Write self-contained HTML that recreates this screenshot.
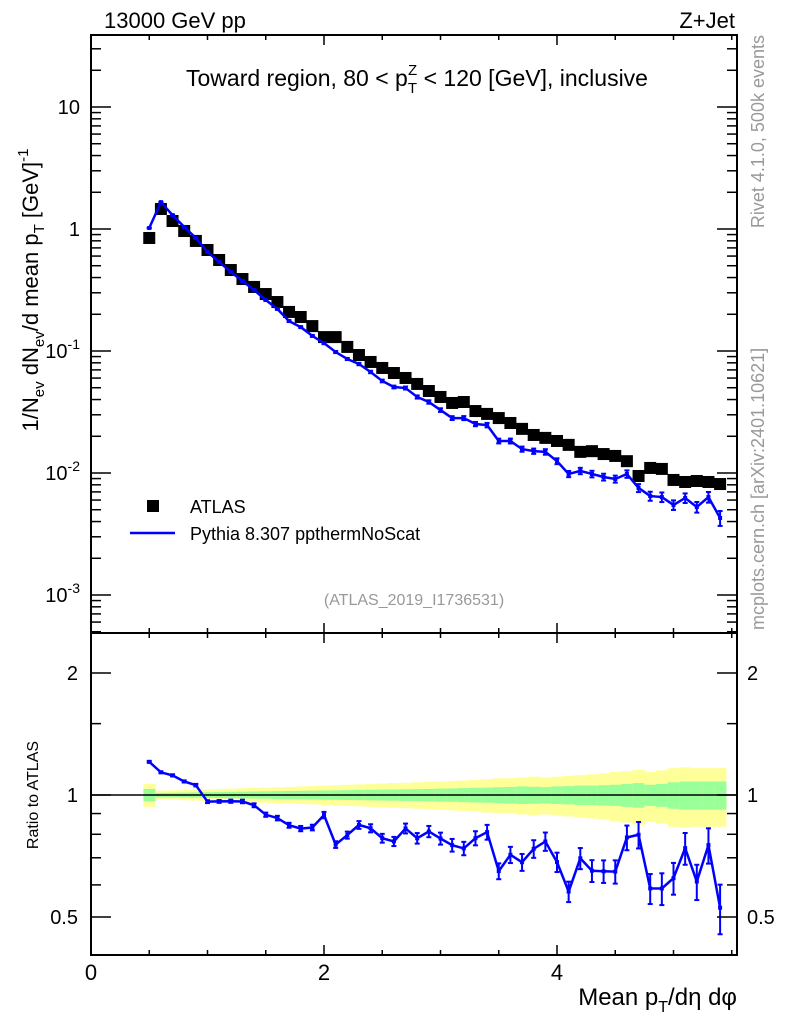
<!DOCTYPE html>
<html><head><meta charset="utf-8"><style>
body{margin:0;background:#fff;}
svg{display:block;font-family:"Liberation Sans",sans-serif;}
</style></head><body>
<svg id="c" width="786" height="1024" viewBox="0 0 786 1024">
<rect x="0" y="0" width="786" height="1024" fill="#fff"/>
<g id="bands"></g><g id="marks"></g><g id="axes"></g>
<text x="104" y="28" font-size="22">13000 GeV pp</text>
<text x="735" y="28" font-size="22" text-anchor="end">Z+Jet</text>
<text x="417" y="86" font-size="23" text-anchor="middle">Toward region, 80 &lt; p<tspan font-size="15" dy="7">T</tspan><tspan font-size="15" dx="-9" dy="-18">Z</tspan><tspan dy="11"> &lt; 120 [GeV], inclusive</tspan></text>
<text transform="translate(38,290) rotate(-90)" font-size="22" text-anchor="middle">1/N<tspan font-size="15" dy="6">ev</tspan><tspan dy="-6"> dN</tspan><tspan font-size="15" dy="6">ev</tspan><tspan dy="-6">/d mean p</tspan><tspan font-size="15" dy="6">T</tspan><tspan dy="-6"> [GeV]</tspan><tspan font-size="15" dy="-10">-1</tspan></text>
<text transform="translate(38,795) rotate(-90)" font-size="16" text-anchor="middle">Ratio to ATLAS</text>
<text transform="translate(764,35) rotate(-90)" font-size="18" fill="#999" text-anchor="end">Rivet 4.1.0,  500k events</text>
<text transform="translate(764,630) rotate(-90)" font-size="18" fill="#999">mcplots.cern.ch [arXiv:2401.10621]</text>
<text x="414" y="605" font-size="16" fill="#999" text-anchor="middle">(ATLAS_2019_I1736531)</text>
<rect x="147" y="500" width="12" height="12" fill="#000"/>
<text x="190" y="513" font-size="18">ATLAS</text>
<line x1="130" y1="533" x2="175" y2="533" stroke="#0000ff" stroke-width="2.5"/>
<text x="190" y="540" font-size="18">Pythia 8.307 ppthermNoScat</text>
<text x="737" y="1005" font-size="24" text-anchor="end">Mean p<tspan font-size="16" dy="7">T</tspan><tspan dy="-7">/dη dφ</tspan></text>
</svg>
<script>
const xCenters=[0.5,0.6,0.7,0.8,0.9,1.0,1.1,1.2,1.3,1.4,1.5,1.6,1.7,1.8,1.9,2.0,2.1,2.2,2.3,2.4,2.5,2.6,2.7,2.8,2.9,3.0,3.1,3.2,3.3,3.4,3.5,3.6,3.7,3.8,3.9,4.0,4.1,4.2,4.3,4.4,4.5,4.6,4.7,4.8,4.9,5.0,5.1,5.2,5.3,5.4];
const atlasValues=[0.844,1.459,1.163,0.963,0.798,0.673,0.557,0.461,0.389,0.335,0.293,0.252,0.209,0.190,0.160,0.130,0.130,0.108,0.0927,0.0813,0.0726,0.0660,0.0601,0.0537,0.0470,0.0420,0.0375,0.0382,0.0322,0.0305,0.0282,0.0257,0.0230,0.0205,0.0194,0.0183,0.0170,0.0149,0.0151,0.0143,0.0138,0.0125,0.00945,0.0110,0.0108,0.00877,0.00844,0.00860,0.00844,0.00812];
const pythiaValues=[1.019,1.66,1.30,1.04,0.844,0.648,0.537,0.445,0.375,0.316,0.262,0.221,0.176,0.157,0.133,0.116,0.0981,0.0860,0.0782,0.0673,0.0568,0.0507,0.0497,0.0420,0.0382,0.0328,0.0282,0.0282,0.0252,0.0247,0.0183,0.0183,0.0157,0.0151,0.0149,0.0125,0.00982,0.0104,0.00982,0.00927,0.00893,0.00982,0.00754,0.00647,0.00635,0.00547,0.00624,0.00526,0.00635,0.00428];
const pythiaRelErr=[0.005,0.005,0.006,0.006,0.007,0.008,0.008,0.009,0.01,0.011,0.012,0.013,0.014,0.015,0.016,0.018,0.019,0.02,0.022,0.023,0.025,0.026,0.028,0.03,0.032,0.034,0.036,0.038,0.04,0.042,0.045,0.046,0.048,0.05,0.052,0.055,0.058,0.06,0.062,0.064,0.066,0.07,0.075,0.085,0.09,0.09,0.09,0.1,0.1,0.14];
const atlasInnerErr=[0.035,0.012,0.013,0.014,0.015,0.016,0.017,0.018,0.019,0.02,0.021,0.022,0.023,0.024,0.025,0.026,0.027,0.028,0.029,0.03,0.031,0.032,0.033,0.034,0.035,0.037,0.038,0.04,0.042,0.043,0.045,0.047,0.05,0.048,0.046,0.05,0.052,0.055,0.055,0.057,0.06,0.065,0.07,0.06,0.065,0.075,0.08,0.08,0.08,0.08];
const atlasOuterErr=[0.065,0.025,0.027,0.029,0.031,0.033,0.035,0.037,0.039,0.041,0.043,0.045,0.047,0.05,0.052,0.055,0.057,0.06,0.062,0.065,0.067,0.07,0.072,0.075,0.078,0.08,0.083,0.086,0.09,0.095,0.1,0.1,0.105,0.11,0.105,0.11,0.115,0.12,0.125,0.13,0.14,0.145,0.155,0.14,0.15,0.165,0.17,0.165,0.165,0.165];
const xTickLabels=["0","2","4"];
const yTickLabels=["10","1","10^-1","10^-2","10^-3"];
const ratioTickLabels=["2","1","0.5"];

const NS="http://www.w3.org/2000/svg";
const L=91,R=737,T=35,MB=633,RB=955;
const xs=v=>91+116.5*v;
const ys=v=>229-122*Math.log10(v);
const yr=v=>795-122*Math.log2(v);
function mk(tag,attrs,parent){const e=document.createElementNS(NS,tag);for(const k in attrs)e.setAttribute(k,attrs[k]);parent.appendChild(e);return e;}
const bands=document.getElementById('bands'),marks=document.getElementById('marks'),axes=document.getElementById('axes');
const hw=0.05;
xCenters.forEach((x,i)=>{
  const o=mk('rect',{x:xs(x-hw),width:xs(x+hw)-xs(x-hw)+0.5,y:yr(1+atlasOuterErr[i]),height:yr(1-atlasOuterErr[i])-yr(1+atlasOuterErr[i]),fill:'#ffff99'},bands);
  
  
  const g=mk('rect',{x:xs(x-hw),width:xs(x+hw)-xs(x-hw)+0.5,y:yr(1+atlasInnerErr[i]),height:yr(1-atlasInnerErr[i])-yr(1+atlasInnerErr[i]),fill:'#99ff99'},bands);
  
  
});
const one=mk('line',{x1:L,x2:R,y1:yr(1),y2:yr(1),stroke:'#000','stroke-width':1.5},bands);


xCenters.forEach((x,i)=>{
  const s=mk('rect',{x:xs(x)-6,y:ys(atlasValues[i])-6,width:12,height:12,fill:'#000'},marks);
  
  
});
const pm=mk('polyline',{points:xCenters.map((x,i)=>xs(x)+','+ys(pythiaValues[i])).join(' '),fill:'none',stroke:'#0000ff','stroke-width':2.5},marks);


function errbar(x,yc,y1,y2,name){
  const g=mk('g',{stroke:'#0000ff','stroke-width':2},marks);
  
  
  mk('line',{x1:x,x2:x,y1:y1,y2:y2},g);
  mk('line',{x1:x-2.5,x2:x+2.5,y1:y1,y2:y1},g);
  mk('line',{x1:x-2.5,x2:x+2.5,y1:y2,y2:y2},g);
  mk('rect',{x:x-2,y:yc-2,width:4,height:4,fill:'#0000ff',stroke:'none'},g);
}
xCenters.forEach((x,i)=>{const v=pythiaValues[i],e=pythiaRelErr[i];errbar(xs(x),ys(v),ys(v*(1+e)),ys(v*(1-e)),'pythia-point');});
const ratio=xCenters.map((x,i)=>pythiaValues[i]/atlasValues[i]);
const pr=mk('polyline',{points:xCenters.map((x,i)=>xs(x)+','+yr(ratio[i])).join(' '),fill:'none',stroke:'#0000ff','stroke-width':2.5},marks);


xCenters.forEach((x,i)=>{const v=ratio[i],e=pythiaRelErr[i];errbar(xs(x),yr(v),yr(v*(1+e)),yr(v*(1-e)),'pythia-ratio-point');});
[[T,MB,'main-plot-frame'],[MB,RB,'ratio-plot-frame']].forEach(([a,b,n])=>{
  const f=mk('rect',{x:L,y:a,width:R-L,height:b-a,fill:'none',stroke:'#000','stroke-width':2},axes);
  
  
});
function tk(x1,y1,x2,y2){mk('line',{x1,y1,x2,y2,stroke:'#000','stroke-width':1.5},axes);}
for(let v=0;v<=5.5;v+=0.5){const big=Math.abs(v%2)<1e-9;const len=big?10:5;const X=xs(v);
  tk(X,RB,X,RB-len);tk(X,MB,X,MB-len);tk(X,MB,X,MB+len);tk(X,T,X,T+len);}
xTickLabels.forEach(l=>{const t=mk('text',{x:xs(+l),y:980,'font-size':22,'text-anchor':'middle'},axes);t.textContent=l;
  
  });
for(let d=-4;d<=1;d++){for(let m=1;m<=9;m++){const v=m*Math.pow(10,d);const Y=ys(v);if(Y<T||Y>MB)continue;const len=m==1?20:10;tk(L,Y,L+len,Y);tk(R,Y,R-len,Y);}}
yTickLabels.forEach(l=>{const p=l.split('^');const v=p.length>1?Math.pow(10,+p[1]):+l;const t=mk('text',{x:80,y:ys(v)+7,'font-size':20,'text-anchor':'end'},axes);
  
  
  if(p.length>1){t.textContent=p[0];const s=mk('tspan',{'font-size':14,dy:-9},t);s.textContent=p[1];}else t.textContent=l;});
[0.5,0.6,0.7,0.8,0.9,1,1.5,2].forEach(v=>{const Y=yr(v);const len=(v==0.5||v==1||v==2)?20:10;tk(L,Y,L+len,Y);tk(R,Y,R-len,Y);});
ratioTickLabels.forEach(l=>{[[78,'end'],[747,'start']].forEach(([x,a])=>{const t=mk('text',{x:x,y:yr(+l)+7,'font-size':20,'text-anchor':a},axes);t.textContent=l;
  
  });});
</script>
</body></html>
